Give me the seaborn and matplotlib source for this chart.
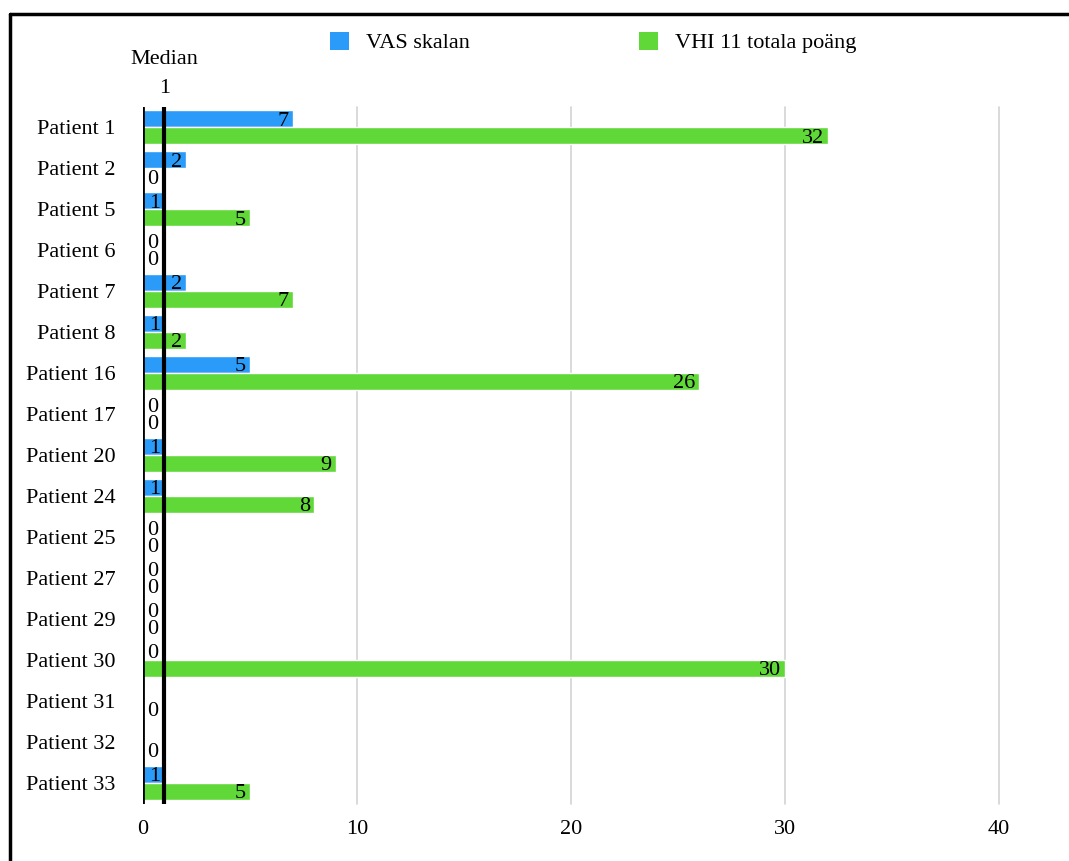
import matplotlib
matplotlib.use("Agg")
import matplotlib.pyplot as plt
from matplotlib.patches import Patch
from matplotlib.lines import Line2D
import numpy as np
import pandas as pd
import seaborn as sns

# ---- data ----
patients = ["Patient 1", "Patient 2", "Patient 5", "Patient 6", "Patient 7", "Patient 8",
            "Patient 16", "Patient 17", "Patient 20", "Patient 24", "Patient 25", "Patient 27",
            "Patient 29", "Patient 30", "Patient 31", "Patient 32", "Patient 33"]
vas_values = [7, 2, 1, 0, 2, 1, 5, 0, 1, 1, 0, 0, 0, 0, np.nan, np.nan, 1]
vhi_values = [32, 0, 5, 0, 7, 2, 26, 0, 9, 8, 0, 0, 0, 30, 0, 0, 5]
series_names = ["VAS skalan", "VHI 11 totala poäng"]
series_colors = ["#2A9BF8", "#60D837"]
median_value = 1
x_ticks = [0, 10, 20, 30, 40]

df = pd.DataFrame({"Patient": patients, series_names[0]: vas_values, series_names[1]: vhi_values})
long_df = df.melt(id_vars="Patient", var_name="Serie", value_name="Värde").dropna()

sns.set_theme(style="white")
plt.rcParams["font.family"] = ["Liberation Serif", "DejaVu Serif"]
plt.rcParams["text.color"] = "black"
plt.rcParams["xtick.color"] = "black"
plt.rcParams["ytick.color"] = "black"
plt.rcParams["xtick.labelcolor"] = "black"
plt.rcParams["ytick.labelcolor"] = "black"
FS = 16

W, H = 1069, 861
fig = plt.figure(figsize=(W / 100, H / 100), dpi=100)
ax = fig.add_axes([143 / W, 1 - 803.5 / H, (999 - 143) / W, (803.5 - 107) / H])

sns.barplot(data=long_df, y="Patient", x="Värde", hue="Serie", order=patients,
            hue_order=series_names, palette=series_colors, orient="h",
            width=0.83, errorbar=None, saturation=1, legend=False, ax=ax, zorder=2)

ax.set_xlim(0, 40)
ax.set_xticks(x_ticks)
ax.set_xticklabels([str(t) for t in x_ticks], fontsize=FS, color="black")
ax.tick_params(axis="x", length=0, pad=12, labelcolor="black")
ax.tick_params(axis="y", length=0, pad=20, labelsize=FS, labelcolor="black")
ax.set_xlabel("")
ax.set_ylabel("")
for s in ax.spines.values():
    s.set_visible(False)

for t in x_ticks[1:]:
    ax.axvline(t, color="#d3d3d3", lw=1.2, zorder=0, clip_on=False)
ax.axvline(0, color="black", lw=2, zorder=5)
ax.axvline(median_value, color="black", lw=3, zorder=5)

# median label
trans = ax.get_xaxis_transform()
ax.annotate(str(median_value), xy=(median_value, 1), xycoords=trans, xytext=(0, 10),
            textcoords="offset points", ha="center", va="baseline", fontsize=FS,
            color="black", annotation_clip=False)
ax.annotate("Median", xy=(median_value, 1), xycoords=trans, xytext=(0, 31),
            textcoords="offset points", ha="center", va="baseline", fontsize=FS,
            color="black", annotation_clip=False)

# value labels
px_per_unit = (999 - 143) / 40
for cont in ax.containers:
    for p in cont.patches:
        w = p.get_width()
        if np.isnan(w):
            continue
        yc = p.get_y() + p.get_height() / 2
        txt = f"{w:.0f}"
        need = 11 * len(txt) + 6
        if w * px_per_unit >= need:
            ax.annotate(txt, xy=(w, yc), xytext=(-3, -1.5), textcoords="offset points",
                        ha="right", va="center", fontsize=FS, color="black", zorder=6)
        else:
            ax.annotate(txt, xy=(0, yc), xytext=(3, -1.5), textcoords="offset points",
                        ha="left", va="center", fontsize=FS, color="black", zorder=6)

# legend
handles = [Patch(facecolor=c, edgecolor="none", label=n) for c, n in zip(series_colors, series_names)]
leg = fig.legend(handles=handles, loc="center left", bbox_to_anchor=(330 / W, 1 - 42.5 / H),
                 ncol=2, frameon=False, fontsize=FS, borderpad=0, borderaxespad=0,
                 handlelength=0.86, handleheight=0.86, handletextpad=0.77, columnspacing=7.6)
for t in leg.get_texts():
    t.set_color("black")

# figure border (left and top visible)
fig.add_artist(Line2D([9.5 / W, 9.5 / W], [0, 1 - 14 / H], color="black", lw=2.5,
                      transform=fig.transFigure))
fig.add_artist(Line2D([9.5 / W, 1], [1 - 14 / H, 1 - 14 / H], color="black", lw=2.5,
                      transform=fig.transFigure))

fig.savefig("out.png", dpi=100, facecolor="white")
